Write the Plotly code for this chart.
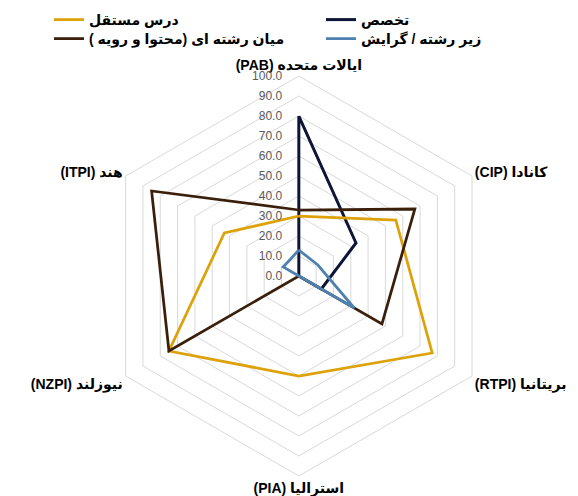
import plotly.graph_objects as go

RLE, PDF = "\u202b", "\u202c"

categories = ["ایالات متحده (PAB)", "کانادا (CIP)", "بریتانیا (RTPI)",
              "استرالیا (PIA)", "نیوزلند (NZPI)", "هند (ITPI)"]

takhasos = [80, 33, 13, 0, 0, 0]
dars_mostaghel = [30, 56, 77, 50, 75, 43]
mian_reshte = [33, 67, 48, 0, 75, 85]
zir_reshte = [13, 11, 32, 0, 0, 9]

tick_vals = [0, 10, 20, 30, 40, 50, 60, 70, 80, 90, 100]

series = [
    # name, values, color, width, legend id, legend x, legend y (px)
    ("تخصص", takhasos, "#0E1638", 3.0, "legend", 321, 20),
    ("درس مستقل", dars_mostaghel, "#DDA20A", 2.75, "legend2", 49, 20),
    ("میان رشته ای (محتوا و رویه )", mian_reshte, "#3A1F0B", 2.75, "legend3", 49, 39),
    ("زیر رشته / گرایش", zir_reshte, "#4F81B0", 2.75, "legend4", 321, 39),
]

theta = [RLE + c + PDF for c in categories]

FONT = "Liberation Sans, DejaVu Sans, sans-serif"
W, H = 578, 496

fig = go.Figure()
legends = {}
for name, vals, color, width, leg, lx, ly in series:
    fig.add_trace(go.Scatterpolar(
        r=vals + vals[:1], theta=theta + theta[:1], mode="lines",
        name=RLE + name + PDF, legend=leg, showlegend=True,
        line=dict(color=color, width=width),
    ))
    legends[leg] = dict(
        x=lx / W, y=1 - ly / H, xanchor="left", yanchor="middle",
        font=dict(size=14, color="black", family=FONT, weight="bold"),
        bgcolor="rgba(0,0,0,0)", borderwidth=0,
    )

fig.update_layout(
    width=W, height=H,
    showlegend=True,
    margin=dict(l=0, r=0, t=0, b=0, autoexpand=False),
    paper_bgcolor="white",
    font=dict(family=FONT, color="black"),
    polar=dict(
        domain=dict(x=[0.171, 0.863], y=[0.0403, 0.8468]),
        bgcolor="white",
        gridshape="linear",
        radialaxis=dict(
            range=[0, 100], tickvals=tick_vals, tickformat=".1f",
            angle=90, tickangle=90, side="counterclockwise",
            showline=False, gridcolor="#D9D9D9", gridwidth=1,
            ticks="outside", ticklen=12, tickcolor="rgba(0,0,0,0)",
            tickfont=dict(size=12, color="#595959"),
        ),
        angularaxis=dict(
            rotation=90, direction="clockwise",
            showgrid=False, showline=True, linecolor="#D9D9D9", linewidth=1,
            ticks="",
            tickfont=dict(size=14, color="black", family=FONT, weight="bold"),
        ),
    ),
    **legends,
)

fig.write_html("out.html", config={"displayModeBar": False},
               post_script="document.body.style.margin='0px';")
